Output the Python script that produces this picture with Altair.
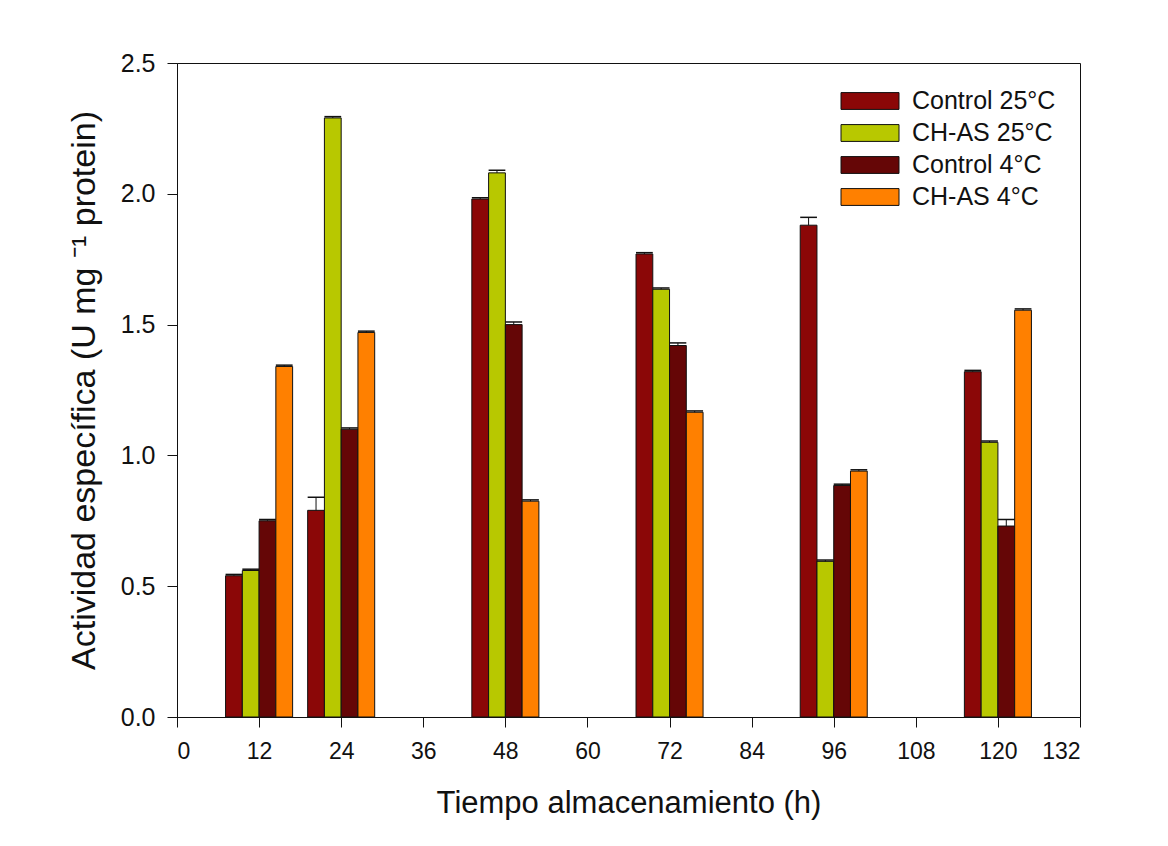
import altair as alt
import pandas as pd

# ---- data ----
times = [12, 24, 48, 72, 96, 120]
series = ["Control 25°C", "CH-AS 25°C", "Control 4°C", "CH-AS 4°C"]
control25 = [0.54, 0.79, 1.98, 1.77, 1.88, 1.32]
chas25 = [0.56, 2.29, 2.08, 1.635, 0.595, 1.05]
control4 = [0.75, 1.10, 1.50, 1.42, 0.885, 0.73]
chas4 = [1.34, 1.47, 0.825, 1.165, 0.94, 1.555]
err_control25 = [0.005, 0.05, 0.005, 0.005, 0.03, 0.005]
err_chas25 = [0.005, 0.005, 0.01, 0.005, 0.005, 0.005]
err_control4 = [0.005, 0.005, 0.01, 0.01, 0.005, 0.025]
err_chas4 = [0.005, 0.005, 0.005, 0.005, 0.005, 0.005]
colors = ["#8B0707", "#B8C800", "#650606", "#FF8000"]

x_ticks = list(range(0, 133, 12))
y_ticks = [0.0, 0.5, 1.0, 1.5, 2.0, 2.5]

values = [control25, chas25, control4, chas4]
errors = [err_control25, err_chas25, err_control4, err_chas4]
rows = []
for i, name in enumerate(series):
    for t, v, e in zip(times, values[i], errors[i]):
        rows.append({"t": t, "serie": name, "idx": i, "v": v, "top": v + e})
df = pd.DataFrame(rows)

W = 2.45  # bar width in hours
FONT = "Liberation Sans"

base = alt.Chart(df).transform_calculate(
    x0=f"datum.t + (datum.idx - 2) * {W}",
    x1=f"datum.t + (datum.idx - 1) * {W}",
    xc=f"datum.t + (datum.idx - 1.5) * {W}",
)

xscale = alt.Scale(domain=[0, 132], nice=False, zero=False)
yscale = alt.Scale(domain=[0, 2.5], nice=False)

bars = base.mark_rect(stroke="#111", strokeWidth=1).encode(
    x=alt.X("x0:Q", scale=xscale,
            axis=alt.Axis(values=x_ticks, title="Tiempo almacenamiento (h)",
                          labelFontSize=23, titleFontSize=31,
                          titlePadding=25, labelPadding=13)),
    x2="x1:Q",
    y=alt.Y("v:Q", scale=yscale,
            axis=alt.Axis(values=y_ticks, format=".1f",
                          title="Actividad específica (U mg ⁻¹  protein)",
                          labelFontSize=25, titleFontSize=34,
                          titlePadding=19, labelPadding=12)),
    y2=alt.datum(0),
    color=alt.Color("serie:N", scale=alt.Scale(domain=series, range=colors),
                    legend=alt.Legend(
                        title=None, orient="none", legendX=678, legendY=23,
                        symbolType="M-2,-0.58H2V0.58H-2Z", symbolSize=841,
                        symbolStrokeColor="#111", symbolStrokeWidth=1,
                        symbolOpacity=1, labelFont=FONT, labelFontSize=25,
                        labelColor="#111", labelOffset=27, rowPadding=4)),
)

err_v = base.mark_rule(color="#111", strokeWidth=1).encode(
    x="xc:Q", y="v:Q", y2="top:Q")
err_cap = base.mark_rule(color="#111", strokeWidth=1.5).encode(
    x="x0:Q", x2="x1:Q", y="top:Q")

chart = alt.layer(bars, err_v, err_cap).properties(
    width=903, height=654,
    autosize=alt.AutoSizeParams(type="none"),
    padding={"left": 169, "top": 55, "right": 70, "bottom": 110},
    background="white",
).configure_view(stroke="#111", strokeWidth=1).configure_axis(
    grid=False, domainColor="#111", tickColor="#111", tickSize=10,
    labelFont=FONT, labelColor="#111",
    titleFont=FONT, titleFontWeight="normal", titleColor="#111",
)

chart.save("out.html", embed_options={"renderer": "svg", "actions": False})
